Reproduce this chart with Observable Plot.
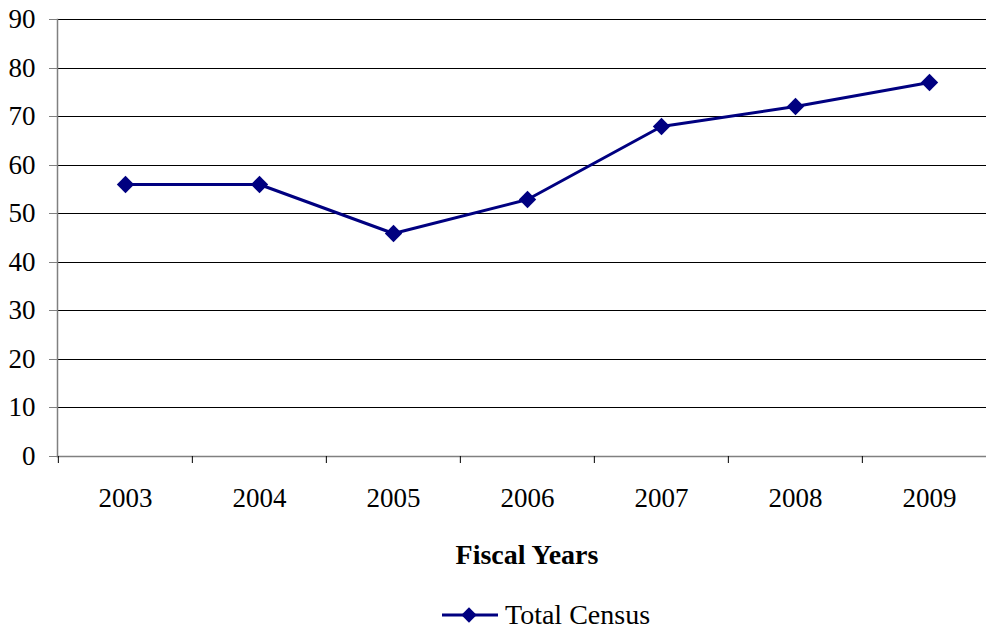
<!DOCTYPE html>
<html>
<head>
<meta charset="utf-8">
<script src="https://cdn.jsdelivr.net/npm/d3@7"></script>
<script src="https://cdn.jsdelivr.net/npm/@observablehq/plot@0.6"></script>
<style>
  html, body { margin: 0; padding: 0; background: #fff; }
  #wrap { position: relative; width: 986px; height: 629px; font-family: "Liberation Serif", "Times New Roman", serif; }
  #chart svg { display: block; }
  #xtitle { position: absolute; left: 0; width: 1054px; top: 538px; line-height: 34px; text-align: center; font-weight: bold; font-size: 28px; color: #000; }
  #legend { position: absolute; left: 442px; top: 598px; height: 34px; display: flex; align-items: center; font-size: 28px; color: #000; }
  #legend svg { margin-right: 7px; }
</style>
</head>
<body>
<div id="wrap">
  <div id="chart"></div>
  <div id="xtitle">Fiscal Years</div>
  <div id="legend"></div>
</div>
<script>
// Fiscal years and total census counts
const years = ["2003", "2004", "2005", "2006", "2007", "2008", "2009"];
const census = [56, 56, 46, 53, 68, 72, 77];
const yTicks = [0, 10, 20, 30, 40, 50, 60, 70, 80, 90];
const seriesName = "Total Census";

const rows = years.map((year, i) => ({year, value: census[i]}));

const font = `"Liberation Serif", "Times New Roman", serif`;
const navy = "#000080";
const axisGray = "#808080";
const bandLeft = 57, bandRight = 997;
const bandwidth = (bandRight - bandLeft) / years.length;

const chart = Plot.plot({
  width: 986,
  height: 520,
  marginLeft: 57,
  marginRight: 0,
  marginTop: 19,
  marginBottom: 64,
  style: {fontFamily: font, fontSize: "27px", color: "#000", background: "#fff"},
  x: {type: "band", domain: years, range: [bandLeft, bandRight], padding: 0},
  y: {domain: [0, 90], range: [456, 19], round: true},
  marks: [
    // horizontal gridlines
    Plot.ruleY(yTicks.filter(d => d > 0), {stroke: "#000", strokeWidth: 1, strokeOpacity: 1}),
    // axis lines
    Plot.frame({anchor: "left", stroke: axisGray, strokeWidth: 1.5}),
    Plot.frame({anchor: "bottom", stroke: axisGray, strokeWidth: 1.5}),
    // y axis ticks and labels
    Plot.axisY({ticks: yTicks, tickSize: 8, tickPadding: 14, stroke: axisGray, fontSize: 27, fill: "#000", label: null}),
    // x tick marks at category boundaries
    Plot.axisX({tickSize: 7, text: null, dx: -bandwidth / 2, stroke: "#000", label: null}),
    // x category labels
    Plot.axisX({tickSize: 0, tickPadding: 31, fontSize: 27, fill: "#000", label: null}),
    // series
    Plot.line(rows, {x: "year", y: "value", stroke: navy, strokeWidth: 3}),
    Plot.dot(rows, {x: "year", y: "value", symbol: "diamond2", r: 7.8, fill: navy, stroke: "none"})
  ]
});
document.getElementById("chart").appendChild(chart);

// legend swatch: line with diamond marker
const legend = document.getElementById("legend");
const sw = d3.create("svg").attr("width", 56).attr("height", 20);
sw.append("line").attr("x1", 0).attr("x2", 56).attr("y1", 10).attr("y2", 10)
  .attr("stroke", navy).attr("stroke-width", 3);
sw.append("path").attr("d", d3.symbol(d3.symbolDiamond2, 150)()).attr("transform", "translate(27,10)")
  .attr("fill", navy);
legend.appendChild(sw.node());
const label = document.createElement("span");
label.textContent = seriesName;
legend.appendChild(label);
</script>
</body>
</html>
